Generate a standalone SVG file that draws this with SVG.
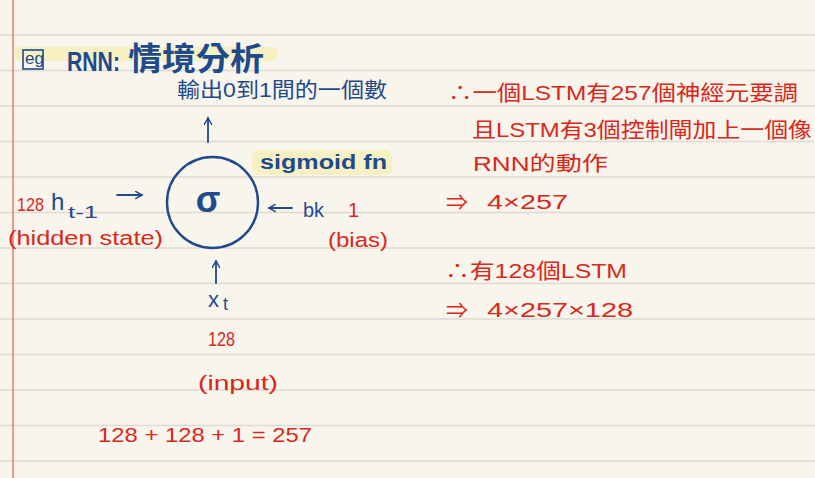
<svg xmlns="http://www.w3.org/2000/svg" width="815" height="478" viewBox="0 0 815 478">
<style>
.blue{fill:#1f4a8c;font-family:"Liberation Sans","Noto Sans CJK TC",sans-serif}
.red{fill:#d8281c;font-family:"Liberation Sans","Noto Sans CJK TC",sans-serif}
.rule{stroke:#dddbd4;stroke-width:1.6}
.conn{stroke:#1f4a8c;stroke-width:1.8;fill:none;stroke-linecap:round}
.hl{fill:#f6eeb4;opacity:0.75}
</style>
<defs>
<marker id="ah" viewBox="0 0 10 10" refX="8" refY="5" markerWidth="9" markerHeight="9" orient="auto" markerUnits="userSpaceOnUse">
<path d="M1,1 L8,5 L1,9" fill="none" stroke="#1f4a8c" stroke-width="1.6" stroke-linecap="round"/>
</marker>
</defs>
<rect width="815" height="478" fill="#f8f5ec"/>
<g id="paper">
<line class="rule" x1="0" y1="35" x2="815" y2="35"/>
<line class="rule" x1="0" y1="70.5" x2="815" y2="70.5"/>
<line class="rule" x1="0" y1="106" x2="815" y2="106"/>
<line class="rule" x1="0" y1="141.5" x2="815" y2="141.5"/>
<line class="rule" x1="0" y1="177" x2="815" y2="177"/>
<line class="rule" x1="0" y1="212.5" x2="815" y2="212.5"/>
<line class="rule" x1="0" y1="248" x2="815" y2="248"/>
<line class="rule" x1="0" y1="283.5" x2="815" y2="283.5"/>
<line class="rule" x1="0" y1="319" x2="815" y2="319"/>
<line class="rule" x1="0" y1="354.5" x2="815" y2="354.5"/>
<line class="rule" x1="0" y1="390" x2="815" y2="390"/>
<line class="rule" x1="0" y1="425.5" x2="815" y2="425.5"/>
<line class="rule" x1="0" y1="461" x2="815" y2="461"/>
<line x1="13" y1="0" x2="13" y2="478" stroke="#e06a64" stroke-width="1.3"/>
</g>
<g id="title">
<rect class="hl" x="14" y="47" width="264" height="14" rx="6"/>
<rect x="23" y="50" width="20" height="19" fill="none" stroke="#1f4a8c" stroke-width="1.6"/>
<text class="blue" x="25" y="64" font-size="17">eg</text>
<text class="blue" x="67" y="71" font-size="27" font-weight="bold" textLength="53" lengthAdjust="spacingAndGlyphs">RNN:</text>
<text class="blue" x="128" y="70" font-size="32" font-weight="bold" textLength="136" lengthAdjust="spacingAndGlyphs">情境分析</text>
</g>
<g id="output-label">
<text class="blue" x="177" y="97" font-size="21" textLength="210" lengthAdjust="spacingAndGlyphs">輸出0到1間的一個數</text>
</g>
<g id="sigma-node">
<circle cx="212.5" cy="202.5" r="45.5" fill="none" stroke="#1f4a8c" stroke-width="2.4"/>
<text class="blue" x="208" y="212" font-size="36" font-weight="bold" text-anchor="middle">σ</text>
</g>
<g id="sigmoid-label">
<rect class="hl" x="252" y="150" width="140" height="25" rx="6"/>
<text class="blue" x="260" y="169" font-size="20" font-weight="bold" textLength="127" lengthAdjust="spacingAndGlyphs">sigmoid fn</text>
</g>
<g id="hidden-input">
<text class="red" x="17" y="211" font-size="19" textLength="27" lengthAdjust="spacingAndGlyphs">128</text>
<text class="blue" x="51" y="210" font-size="24">h</text>
<text class="blue" x="68" y="218" font-size="16" textLength="30" lengthAdjust="spacingAndGlyphs">t-1</text>
<text class="red" x="8" y="245" font-size="20" textLength="155" lengthAdjust="spacingAndGlyphs">(hidden state)</text>
</g>
<g id="bias-input">
<text class="blue" x="303" y="217" font-size="21" textLength="21" lengthAdjust="spacingAndGlyphs">bk</text>
<text class="red" x="348" y="217" font-size="20">1</text>
<text class="red" x="328" y="247" font-size="20" textLength="60" lengthAdjust="spacingAndGlyphs">(bias)</text>
</g>
<g id="x-input">
<text class="blue" x="208" y="307" font-size="22">x</text>
<text class="blue" x="223" y="310" font-size="18">t</text>
<text class="red" x="208" y="346" font-size="21" textLength="27" lengthAdjust="spacingAndGlyphs">128</text>
<text class="red" x="198" y="390" font-size="20" textLength="80" lengthAdjust="spacingAndGlyphs">(input)</text>
</g>
<g id="sum">
<text class="red" x="98" y="442" font-size="21" textLength="214" lengthAdjust="spacingAndGlyphs">128 + 128 + 1 = 257</text>
</g>
<g id="notes">
<text class="red" x="448" y="100" font-size="21" textLength="350" lengthAdjust="spacingAndGlyphs">∴一個LSTM有257個神經元要調</text>
<text class="red" x="472" y="137" font-size="21" textLength="340" lengthAdjust="spacingAndGlyphs">且LSTM有3個控制閘加上一個像</text>
<text class="red" x="473" y="171" font-size="20" textLength="135" lengthAdjust="spacingAndGlyphs">RNN的動作</text>
<text class="red" x="446" y="210" font-size="22">⇒</text>
<text class="red" x="487" y="209" font-size="20" textLength="81" lengthAdjust="spacingAndGlyphs">4×257</text>
<text class="red" x="445" y="278" font-size="21" textLength="182" lengthAdjust="spacingAndGlyphs">∴有128個LSTM</text>
<text class="red" x="446" y="318" font-size="22">⇒</text>
<text class="red" x="487" y="317" font-size="20" textLength="146" lengthAdjust="spacingAndGlyphs">4×257×128</text>
</g>
<g id="connectors">
<line class="conn" x1="208" y1="142" x2="208" y2="118" marker-end="url(#ah)"/>
<line class="conn" x1="117" y1="195" x2="142" y2="195" marker-end="url(#ah)"/>
<line class="conn" x1="292" y1="208" x2="269" y2="208" marker-end="url(#ah)"/>
<line class="conn" x1="216" y1="283" x2="216" y2="261" marker-end="url(#ah)"/>
</g>
</svg>
